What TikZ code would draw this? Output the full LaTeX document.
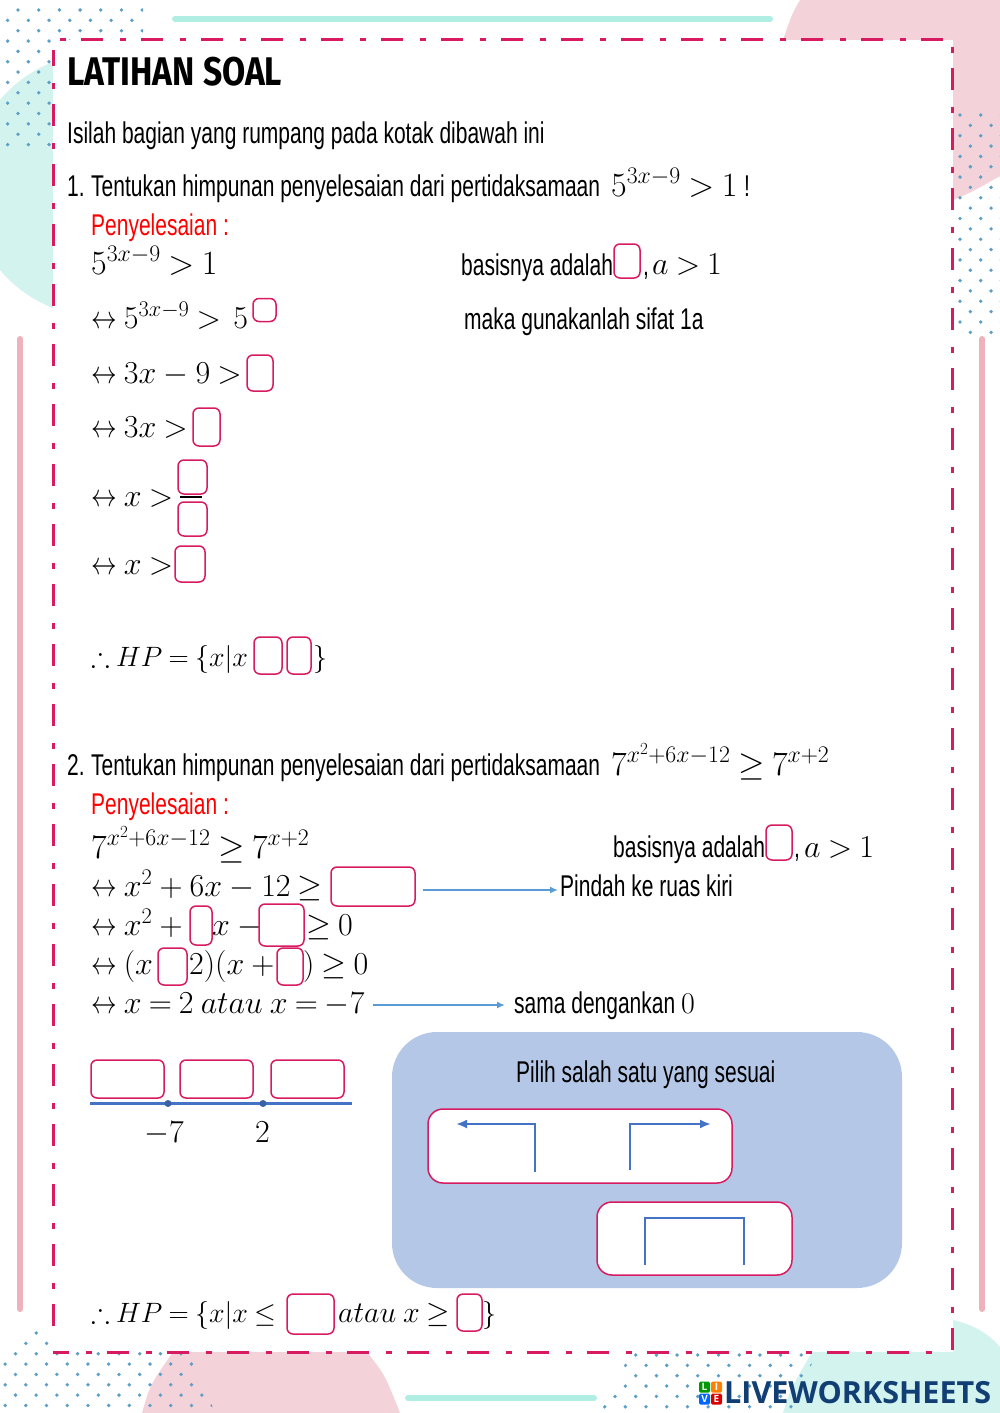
\documentclass[tikz,border=0pt]{standalone}
\usepackage{fix-cm}
\usepackage{amsmath}
\usepackage{amssymb}
\usepackage{fontspec}
\usepackage{xcolor}
\usetikzlibrary{positioning,calc,arrows.meta}
\setmainfont[FakeStretch=0.70]{Liberation Sans}
\newfontfamily\titlefont[FakeStretch=0.84]{Fira Sans Bold}
\newfontfamily\logofont{Open Sans Bold}
\definecolor{isian}{HTML}{D81B60}
\definecolor{tosca}{HTML}{D2F3EE}
\definecolor{barteal}{HTML}{B0EEE3}
\definecolor{merahmuda}{HTML}{F4D2D9}
\definecolor{barpink}{HTML}{EFB1BC}
\definecolor{panel}{HTML}{B4C7E7}
\definecolor{garis}{HTML}{4472C4}
\definecolor{panah}{HTML}{5B9BD5}
\definecolor{titik}{HTML}{5E9FC8}
\definecolor{logobiru}{HTML}{123F73}
\thickmuskip=4mu
\newcommand{\dotgrid}[4]{%
	\foreach \r in {0,...,#3}{\foreach \c in {0,...,#4}{
		\fill[titik] ({#1+20.7*\c-10.35*mod(\r,2)},{#2+10.35*\r}) circle (1.9);
	}}}
\newcommand{\ekuiv}{\mathrel{\scalebox{0.8}[1]{$\leftrightarrow$}}}
\tikzset{
	txt/.style={anchor=base west,inner sep=0pt,font=\fontsize{30}{36}\selectfont},
	mth/.style={anchor=base west,inner sep=0pt,font=\fontsize{32}{38}\selectfont},
	mthb/.style={mth,font=\fontsize{34}{40}\selectfont},
	mthk/.style={mth,font=\fontsize{28}{34}\selectfont},
	kotak/.style={draw=isian,line width=1.5pt,fill=white,rounded corners=6pt,inner sep=0pt},
	border/.style={draw=isian,line width=3pt,dash pattern=on 6pt off 15pt on 22pt off 17pt},
	sudut/.style={draw=garis,line width=2.8pt},
	bar/.style={line width=6pt,line cap=round},
	panahbiru/.style={draw=panah,line width=1.8pt,-{Latex[length=8pt,width=7pt]}},
	logokotak/.style={minimum size=11pt,inner sep=0pt,rounded corners=1.5pt,text=white,font=\logofont\fontsize{10}{10}\selectfont}
}
\begin{document}
\begin{tikzpicture}[x=1pt,y=-1pt]
	\useasboundingbox (0,0) rectangle (1000,1413);
	\fill[white] (0,0) rectangle (1000,1413);
	% latar
	\fill[tosca] (101,185) circle (132);
	\fill[merahmuda] (800,0) .. controls (792,14) .. (783,40) -- (953,40) -- (953,200) .. controls (972,192) .. (1000,176) -- (1000,0) -- cycle;
	\fill[merahmuda] (142,1413) .. controls (150,1385) .. (173,1352) -- (367,1352) .. controls (385,1375) .. (400,1413) -- cycle;
	\fill[tosca] (783,1413) .. controls (790,1390) .. (812,1352) -- (953,1352) -- (953,1320) .. controls (975,1325) and (990,1335) .. (1000,1347) -- (1000,1413) -- cycle;
	\begin{scope}
		\clip (0,0) -- (143,0) -- (143,38) -- (53,42) -- (53,150) -- (0,150) -- cycle;
		\dotgrid{18}{10}{13}{6}
	\end{scope}
	\dotgrid{960}{115}{21}{2}
	\begin{scope}
		\clip (36,1325) -- (0,1360) -- (0,1413) -- (215,1413) -- (190,1350) -- (60,1350) -- cycle;
		\dotgrid{15.5}{1333}{7}{10}
	\end{scope}
	\begin{scope}
		\clip (632,1350) -- (600,1413) -- (790,1413) -- (818,1350) -- cycle;
		\dotgrid{615}{1355}{5}{10}
	\end{scope}
	\draw[bar,barteal] (175,19) -- (770,19);
	\draw[bar,barteal] (408,1398) -- (594,1398);
	\draw[bar,barpink] (20,339) -- (20,1309);
	\draw[bar,barpink] (982,339) -- (982,1309);
	\fill[white] (53,40) rectangle (952,1352);
	\draw[border] (60,40) -- (943,40);
	\draw[border] (952,47) -- (952,1352);
	\draw[border,dash phase=27pt] (53,1352) -- (945,1352);
	\draw[border,dash phase=27pt] (53,50) -- (53,1334);

	% soal 1
	\node[anchor=base west,inner sep=0pt,font=\titlefont\fontsize{40}{44}\selectfont] (judul) at (67,85) {LATIHAN SOAL};
	\node[txt] (isilah) at (67,143) {Isilah bagian yang rumpang pada kotak dibawah ini};
	\node[txt] (no1) at (67,196) {1.};
	\node[txt] (soal1) at (91,196) {Tentukan himpunan penyelesaian dari pertidaksamaan};
	\node[mthb] (soal1m) at (611,196) {$5^{3x-9}>1$};
	\node[txt] (seru) at (744,196) {!};
	\node[txt,red] (peny1) at (91,235) {Penyelesaian :};
	\node[mthb] (a1) at (91,274) {$5^{3x-9}>1$};
	\node[txt] (basis1) at (461,275) {basisnya adalah};
	\node[kotak,minimum width=26pt,minimum height=34pt] (k1) at (627,261) {};
	\node[txt] (koma1) at (643,275) {,};
	\node[mth] (basis1m) at (652,274) {$a>1$};
	\node[mth] (a2) at (91,328) {$\ekuiv 5^{3x-9}>\,5$};
	\node[kotak,minimum width=23pt,minimum height=23pt] (k2) at (264.5,310) {};
	\node[txt] (sifat) at (464,329) {maka gunakanlah sifat 1a};
	\node[mth] (a3) at (91,383) {$\ekuiv 3x-9>$};
	\node[kotak,minimum width=26pt,minimum height=36pt] (k3) at (260,373) {};
	\node[mth] (a4) at (91,437) {$\ekuiv 3x>$};
	\node[kotak,minimum width=27pt,minimum height=38pt] (k4) at (206.5,427) {};
	\node[mth] (a5) at (91,506) {$\ekuiv x>$};
	\draw[line width=1.2pt] (180,497) -- (202,497);
	\node[kotak,minimum width=29pt,minimum height=34pt] (k5) at (192.5,477) {};
	\node[kotak,minimum width=29pt,minimum height=34pt] (k6) at (192.5,519) {};
	\node[mth] (a6) at (91,574) {$\ekuiv x>$};
	\node[kotak,minimum width=30pt,minimum height=36pt] (k7) at (190,564) {};
	\node[mthk] (a7) at (91,666) {$\therefore HP=\{x|x$};
	\node[kotak,minimum width=28pt,minimum height=37pt] (k8) at (268,655.5) {};
	\node[kotak,minimum width=24pt,minimum height=37pt] (k9) at (299,655.5) {};
	\node[mthk] (a7b) at (313,666) {$\}$};

	% soal 2
	\node[txt] (no2) at (67,775) {2.};
	\node[txt] (soal2) at (91,775) {Tentukan himpunan penyelesaian dari pertidaksamaan};
	\node[mthb] (soal2m) at (611,775) {$7^{x^2+6x-12}\geq 7^{x+2}$};
	\node[txt,red] (peny2) at (91,814) {Penyelesaian :};
	\node[mthb] (b1) at (91,858) {$7^{x^2+6x-12}\geq 7^{x+2}$};
	\node[txt] (basis2) at (613,857) {basisnya adalah};
	\node[kotak,minimum width=26pt,minimum height=35pt] (k10) at (779,842.5) {};
	\node[txt] (koma2) at (794,857) {,};
	\node[mth] (basis2m) at (804,857) {$a>1$};
	\node[mth] (b2) at (91,896) {$\ekuiv x^2+6x-12\geq$};
	\node[kotak,minimum width=84pt,minimum height=39pt] (k11) at (373,886.5) {};
	\node[txt] (pindah) at (560,896) {Pindah ke ruas kiri};
	\node[mth] (b3) at (91,935) {$\ekuiv x^2+{}$};
	\node[kotak,minimum width=22pt,minimum height=39pt] (k12) at (201,925.5) {};
	\node[mth] (b3b) at (212,935) {$x-{}$};
	\node[kotak,minimum width=45pt,minimum height=42pt] (k13) at (281.5,925) {};
	\node[mth] (b3c) at (306,935) {$\geq 0$};
	\node[mth] (b4) at (91,974) {$\ekuiv (x$};
	\node[kotak,minimum width=29pt,minimum height=37pt] (k14) at (172.5,966.5) {};
	\node[mth] (b4b) at (189,974) {$2)(x+{}$};
	\node[kotak,minimum width=26pt,minimum height=37pt] (k15) at (290,966.5) {};
	\node[mth] (b4c) at (303,974) {$)\geq 0$};
	\node[mth] (b5) at (91,1013) {$\ekuiv x=2\;atau\;x=-7$};
	\node[txt] (sama) at (514,1013) {sama dengankan $0$};
	\draw[panahbiru] ([xshift=7pt,yshift=-3.5pt]k11.east) -- ([xshift=-2pt,yshift=6pt]pindah.base west);
	\draw[panahbiru] ([xshift=8pt,yshift=8pt]b5.base east) -- ([xshift=-9pt,yshift=8pt]sama.base west);

	% garis bilangan
	\node[kotak,minimum width=73pt,minimum height=38pt] (n1) at (127.5,1079) {};
	\node[kotak,minimum width=73pt,minimum height=38pt] (n2) at (216.5,1079) {};
	\node[kotak,minimum width=73pt,minimum height=38pt] (n3) at (307.5,1079) {};
	\coordinate (kiri) at (90,1103.5);
	\coordinate (kanan) at (352,1103.5);
	\coordinate (t7) at (168,1103.5);
	\coordinate (t2) at (263,1103.5);
	\draw[draw=garis,line width=2.2pt] (kiri) -- (kanan);
	\fill[garis!85!black] (t7) circle (3.5);
	\fill[garis!85!black] (t2) circle (3.5);
	\node[mth] (min7) at (144,1142) {$-7$};
	\node[mth] (dua) at (255,1142) {$2$};

	% pilihan
	\fill[panel,rounded corners=45pt] (392,1032) rectangle (902,1288);
	\node[txt] (pilih) at (516,1082) {Pilih salah satu yang sesuai};
	\node[kotak,rounded corners=15pt,minimum width=304pt,minimum height=74pt] (pil1) at (580,1146) {};
	\node[kotak,rounded corners=15pt,minimum width=195pt,minimum height=73pt] (pil2) at (694.5,1238.5) {};
	\coordinate (p1a) at (535,1172);
	\coordinate (p1b) at (535,1124);
	\coordinate (p1c) at (456,1124);
	\coordinate (p2a) at (630,1170);
	\coordinate (p2b) at (630,1124);
	\coordinate (p2c) at (711,1124);
	\coordinate (p3a) at (645,1265);
	\coordinate (p3b) at (645,1218);
	\coordinate (p3c) at (744,1218);
	\coordinate (p3d) at (744,1265);
	\draw[sudut,-{Latex[length=11pt,width=9pt]}] (p1a) -- (p1b) -- (p1c);
	\draw[sudut,-{Latex[length=11pt,width=9pt]}] (p2a) -- (p2b) -- (p2c);
	\draw[sudut] (p3a) -- (p3b) -- (p3c) -- (p3d);

	\node[mthk] (c1) at (91,1322) {$\therefore HP=\{x|x\leq$};
	\node[kotak,minimum width=47pt,minimum height=40pt] (k16) at (310.5,1314) {};
	\node[mth,font=\fontsize{30}{36}\selectfont] (c2) at (338,1322) {$atau\;x\geq$};
	\node[kotak,minimum width=25pt,minimum height=37pt] (k17) at (469.5,1312.5) {};
	\node[mthk] (c3) at (482,1322) {$\}$};

	% logo
	\node[logokotak,fill=green!60!black] (logoL) at (704.5,1387) {L};
	\node[logokotak,fill=orange] (logoI) at (716.5,1387) {I};
	\node[logokotak,fill=blue!60!cyan] (logoV) at (704.5,1399) {V};
	\node[logokotak,fill=red!85!black] (logoE) at (716.5,1399) {E};
	\node[anchor=base west,inner sep=0pt,text=logobiru,font=\logofont\fontsize{30.5}{36}\selectfont] (logo) at (724,1403.5) {LIVEWORKSHEETS};
\end{tikzpicture}
\end{document}
